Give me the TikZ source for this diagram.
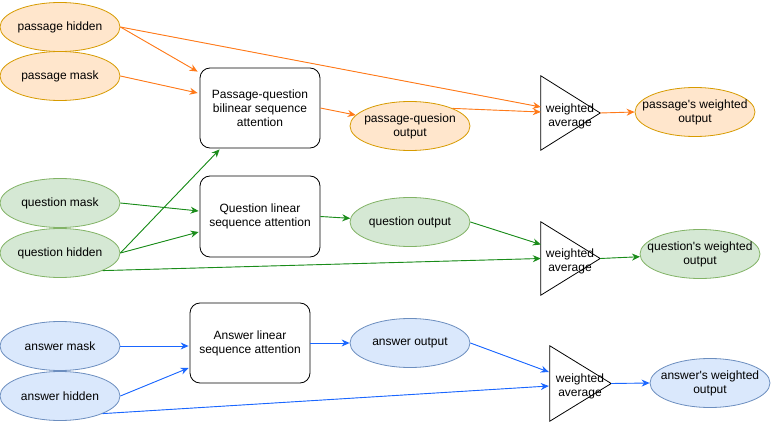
\documentclass[tikz,border=0pt]{standalone}
\usepackage{fontspec}
\setmainfont{Liberation Sans}
\usetikzlibrary{arrows.meta,shapes.geometric}
\definecolor{ofill}{HTML}{FFE6CC}\definecolor{oline}{HTML}{D79B00}
\definecolor{gfill}{HTML}{D5E8D4}\definecolor{gline}{HTML}{82B366}
\definecolor{bfill}{HTML}{DAE8FC}\definecolor{bline}{HTML}{6C8EBF}
\definecolor{oarrow}{HTML}{FF7A1A}\definecolor{garrow}{HTML}{1A8C1A}\definecolor{barrow}{HTML}{1A66FF}
\tikzset{
  txt/.style={font=\fontsize{12}{14}\selectfont, align=center, text=black},
  oval/.style={txt, ellipse, draw, line width=0.8pt, minimum width=120pt, minimum height=49pt, inner sep=-12pt},
  ooval/.style={oval, fill=ofill, draw=oline},
  goval/.style={oval, fill=gfill, draw=gline},
  boval/.style={oval, fill=bfill, draw=bline},
  attbox/.style={txt, draw=black, line width=0.8pt, rounded corners=10pt, minimum width=120pt, inner sep=0pt},
  wavg/.style={txt, inner sep=0pt, minimum width=59pt, minimum height=74pt},
  wtext/.style={txt, inner sep=0pt},
  conn/.style={line width=0.9pt, -{Stealth[length=8pt,width=7pt]}},
  oc/.style={conn, draw=oarrow, fill=oarrow},
  gc/.style={conn, draw=garrow, fill=garrow},
  bc/.style={conn, draw=barrow, fill=barrow},
}
\begin{document}
\begin{tikzpicture}[x=1pt,y=-1pt]
\useasboundingbox (0,0) rectangle (771,422);
% passage
\node[ooval] (ph) at (60,27) {passage hidden};
\node[ooval] (pm) at (60,76) {passage mask};
\node[attbox, minimum height=80pt] (pq) at (260,108) {Passage-question\\bilinear sequence\\attention};
\node[ooval] (pqo) at (410,126) {passage-quesion\\output};
\node[wavg] (w1) at (570.5,113) {};
\node[wtext] (w1t) at (570,116) {weighted\\average};
\draw[line width=0.8pt] (w1.north west) -- (w1.east) -- (w1.south west) -- cycle;
\node[ooval] (pwo) at (695,112) {passage\textquotesingle s weighted\\output};
% question
\node[goval] (qm) at (60,203) {question mask};
\node[goval] (qh) at (60,253) {question hidden};
\node[attbox, minimum height=81pt] (ql) at (260,216.5) {Question linear\\sequence attention};
\node[goval] (qo) at (410,222) {question output};
\node[wavg, minimum height=73pt] (w2) at (570.5,258.5) {};
\node[wtext] (w2t) at (570,261) {weighted\\average};
\draw[line width=0.8pt] (w2.north west) -- (w2.east) -- (w2.south west) -- cycle;
\node[goval] (qwo) at (700,254) {question\textquotesingle s weighted\\output};
% answer
\node[boval] (am) at (60,346) {answer mask};
\node[boval] (ah) at (60,396) {answer hidden};
\node[attbox, minimum height=80pt] (al) at (250,343) {Answer linear\\sequence attention};
\node[boval] (ao) at (410,343) {answer output};
\node[wavg, minimum width=61pt, minimum height=75pt] (w3) at (580.5,383.5) {};
\node[wtext] (w3t) at (580,386) {weighted\\average};
\draw[line width=0.8pt] (w3.north west) -- (w3.east) -- (w3.south west) -- cycle;
\node[boval] (awo) at (710,383) {answer\textquotesingle s weighted\\output};
% orange connectors
\draw[oc] (ph.east) -- ([shift={(-2,4)}]pq.north west);
\draw[oc] (ph.east) -- ([shift={(0,-6)}]w1.west);
\draw[oc] (pm.east) -- ([shift={(-2,-15)}]pq.west);
\draw[oc] (pq.east) -- (pqo);
\draw[oc] (pqo.north east) -- ([shift={(0,-1)}]w1.west);
\draw[oc] (w1.east) -- (pwo.west);
% green connectors
\draw[gc] (qh.east) -- ([shift={(20,1)}]pq.south west);
\draw[gc] (qm.east) -- ([shift={(-1,-5.5)}]ql.west);
\draw[gc] (qh.east) -- ([shift={(-1,15.5)}]ql.west);
\draw[gc] (ql.east) -- (qo);
\draw[gc] (qo.east) -- ([shift={(0,-14)}]w2.west);
\draw[gc] (qh.south east) -- (w2.west);
\draw[gc] (w2.east) -- (qwo);
% blue connectors
\draw[bc] (am.east) -- ([shift={(-1,3)}]al.west);
\draw[bc] (ah.east) -- ([shift={(-1,25)}]al.west);
\draw[bc] (al.east) -- (ao.west);
\draw[bc] (ao.east) -- ([shift={(-1,-11.5)}]w3.west);
\draw[bc] (ah.south east) -- ([shift={(-1,2.5)}]w3.west);
\draw[bc] (w3.east) -- (awo.west);
\end{tikzpicture}
\end{document}
